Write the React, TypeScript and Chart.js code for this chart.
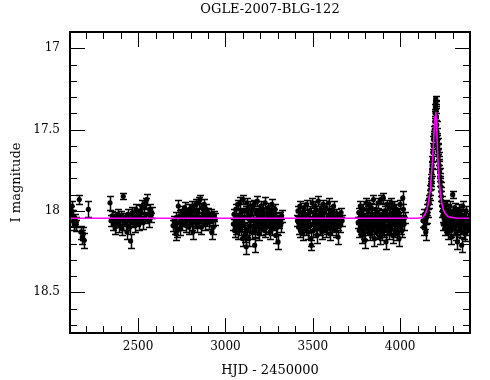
import React, { useEffect, useRef } from "react";
import { Chart, registerables } from "chart.js";

Chart.register(...registerables);

type Obs = [number, number, number]; // HJD-2450000, I mag, error

const TITLE = "OGLE-2007-BLG-122";
const X_LABEL = "HJD - 2450000";
const Y_LABEL = "I magnitude";
const xTickLabels = [2500, 3000, 3500, 4000];
const yTickLabels = [17, 17.5, 18, 18.5];
const xMin = 2110;
const xMax = 4400;
const yMin = 16.9;
const yMax = 18.75;

const season2002: Obs[] = [
  [2118, 18.0, 0.03], [2122, 17.97, 0.03], [2126, 18.03, 0.035], [2130, 18.06, 0.03],
  [2134, 18.08, 0.035], [2138, 18.05, 0.03], [2142, 18.09, 0.035], [2146, 18.07, 0.03],
  [2163, 17.93, 0.03], [2172, 18.13, 0.04], [2180, 18.16, 0.045], [2186, 18.14, 0.04],
  [2191, 18.18, 0.045], [2215, 17.99, 0.05],
];

const season2003: Obs[] = [
  [2339, 17.95, 0.043], [2345, 18.06, 0.035], [2352, 18.03, 0.03], [2358, 18.08, 0.04],
  [2363, 18.05, 0.03], [2369, 18.1, 0.04], [2374, 18.04, 0.035], [2380, 18.07, 0.03],
  [2385, 18.02, 0.035], [2391, 18.09, 0.04], [2396, 18.05, 0.03], [2402, 18.03, 0.03],
  [2408, 18.11, 0.04], [2415, 17.91, 0.018], [2420, 18.06, 0.035], [2425, 18.04, 0.03],
  [2430, 18.08, 0.04], [2436, 18.13, 0.04], [2441, 18.02, 0.03], [2446, 18.06, 0.035],
  [2451, 18.1, 0.04], [2457, 18.185, 0.045], [2462, 18.05, 0.03], [2467, 18.01, 0.035],
  [2472, 18.07, 0.03], [2478, 18.04, 0.035], [2483, 18.09, 0.04], [2488, 17.99, 0.03],
  [2494, 18.06, 0.035], [2499, 18.03, 0.03], [2505, 18.08, 0.04], [2510, 18.0, 0.035],
  [2516, 18.05, 0.03], [2521, 17.97, 0.035], [2527, 18.07, 0.04], [2532, 17.98, 0.03],
  [2538, 18.04, 0.035], [2543, 17.95, 0.03], [2549, 17.93, 0.035], [2555, 18.02, 0.03],
  [2560, 18.06, 0.04], [2566, 17.99, 0.035], [2572, 18.04, 0.03], [2578, 18.01, 0.035],
];

const season2004: Obs[] = [
  [2700, 18.09, 0.035], [2705, 18.06, 0.03], [2712, 18.1, 0.04], [2716, 18.14, 0.04],
  [2718, 18.04, 0.035], [2724, 18.12, 0.04], [2730, 17.97, 0.035], [2734, 18.07, 0.03],
  [2738, 18.03, 0.035], [2742, 18.11, 0.04], [2746, 18.05, 0.03], [2750, 18.02, 0.035],
  [2754, 18.08, 0.04], [2758, 18.0, 0.03], [2762, 18.06, 0.035], [2766, 17.98, 0.035],
  [2770, 18.04, 0.03], [2774, 18.09, 0.04], [2778, 18.01, 0.03], [2782, 18.06, 0.035],
  [2786, 18.03, 0.03], [2790, 18.1, 0.04], [2794, 17.99, 0.035], [2798, 18.05, 0.03],
  [2802, 18.02, 0.035], [2806, 18.08, 0.04], [2810, 17.97, 0.03], [2814, 18.13, 0.04],
  [2818, 18.04, 0.035], [2822, 18.0, 0.03], [2826, 18.07, 0.035], [2830, 17.96, 0.035],
  [2834, 18.03, 0.03], [2838, 18.09, 0.04], [2842, 18.01, 0.03], [2846, 17.95, 0.035],
  [2850, 18.06, 0.035], [2854, 17.93, 0.03], [2858, 18.04, 0.035], [2862, 18.1, 0.04],
  [2866, 17.98, 0.03], [2870, 18.05, 0.035], [2874, 18.02, 0.03], [2878, 17.96, 0.035],
  [2882, 18.08, 0.04], [2886, 18.03, 0.03], [2890, 17.99, 0.035], [2894, 18.06, 0.035],
  [2898, 18.01, 0.03], [2904, 18.07, 0.04], [2910, 18.04, 0.035], [2916, 18.02, 0.03],
  [2921, 18.13, 0.045], [2926, 18.06, 0.035], [2930, 18.1, 0.04], [2936, 18.03, 0.03],
  [2942, 18.05, 0.035],
];

const season2005: Obs[] = [
  [3045, 18.08, 0.035], [3049, 18.02, 0.03], [3052, 18.12, 0.04], [3056, 18.05, 0.035],
  [3059, 17.99, 0.03], [3063, 18.1, 0.04], [3066, 18.06, 0.035], [3070, 17.96, 0.03],
  [3073, 18.13, 0.04], [3077, 18.03, 0.035], [3080, 18.08, 0.035], [3084, 17.95, 0.035],
  [3087, 18.11, 0.04], [3091, 18.01, 0.03], [3094, 18.06, 0.035], [3098, 18.17, 0.045],
  [3101, 17.93, 0.03], [3105, 18.09, 0.04], [3108, 18.04, 0.035], [3112, 18.15, 0.04],
  [3115, 18.0, 0.03], [3119, 18.22, 0.045], [3122, 17.95, 0.03], [3126, 18.11, 0.04],
  [3129, 18.03, 0.035], [3133, 18.17, 0.045], [3136, 18.05, 0.035], [3140, 17.97, 0.03],
  [3143, 18.09, 0.04], [3147, 18.02, 0.03], [3150, 18.13, 0.04], [3154, 17.99, 0.035],
  [3157, 18.06, 0.035], [3161, 18.1, 0.04], [3164, 17.96, 0.03], [3167, 18.21, 0.045],
  [3171, 18.12, 0.04], [3175, 18.01, 0.03], [3178, 18.07, 0.035], [3182, 17.94, 0.03],
  [3185, 18.09, 0.04], [3189, 18.03, 0.035], [3192, 18.14, 0.04], [3196, 18.0, 0.03],
  [3199, 18.06, 0.035], [3203, 17.97, 0.03], [3206, 18.11, 0.04], [3210, 18.04, 0.035],
  [3213, 17.99, 0.03], [3217, 18.08, 0.04], [3220, 18.02, 0.03], [3224, 18.12, 0.04],
  [3227, 17.95, 0.035], [3231, 18.06, 0.035], [3234, 18.1, 0.04], [3238, 18.01, 0.03],
  [3241, 18.05, 0.035], [3245, 17.98, 0.03], [3248, 18.09, 0.04], [3252, 18.03, 0.035],
  [3255, 18.13, 0.04], [3259, 18.0, 0.03], [3262, 18.07, 0.035], [3266, 17.96, 0.035],
  [3269, 18.11, 0.04], [3273, 18.04, 0.035], [3276, 18.02, 0.03], [3280, 18.08, 0.04],
  [3284, 17.99, 0.035], [3288, 18.15, 0.045], [3292, 18.05, 0.035], [3296, 18.1, 0.04],
  [3301, 18.19, 0.045], [3305, 18.07, 0.035], [3310, 18.04, 0.035], [3316, 18.09, 0.04],
  [3322, 18.03, 0.035],
];

const season2006: Obs[] = [
  [3412, 18.06, 0.035], [3415, 18.0, 0.03], [3419, 18.1, 0.04], [3422, 18.04, 0.035],
  [3426, 17.97, 0.03], [3429, 18.12, 0.04], [3433, 18.05, 0.035], [3436, 18.08, 0.035],
  [3440, 18.01, 0.03], [3443, 18.14, 0.04], [3447, 18.06, 0.035], [3450, 17.98, 0.03],
  [3454, 18.09, 0.04], [3457, 18.03, 0.035], [3461, 18.11, 0.04], [3464, 17.96, 0.03],
  [3468, 18.07, 0.035], [3471, 18.02, 0.03], [3475, 18.13, 0.04], [3478, 18.05, 0.035],
  [3482, 18.0, 0.03], [3485, 18.09, 0.04], [3489, 18.17, 0.045], [3492, 18.21, 0.03],
  [3496, 17.95, 0.03], [3499, 18.08, 0.04], [3503, 18.12, 0.04], [3506, 18.01, 0.03],
  [3510, 18.06, 0.035], [3513, 17.97, 0.03], [3517, 18.1, 0.04], [3520, 18.03, 0.035],
  [3524, 18.15, 0.045], [3527, 18.05, 0.035], [3531, 17.94, 0.03], [3534, 18.08, 0.04],
  [3538, 18.02, 0.03], [3541, 18.11, 0.04], [3545, 17.99, 0.035], [3548, 18.06, 0.035],
  [3552, 18.13, 0.04], [3555, 18.04, 0.035], [3559, 17.96, 0.03], [3562, 18.09, 0.04],
  [3566, 18.01, 0.03], [3569, 18.07, 0.035], [3573, 18.12, 0.04], [3576, 17.98, 0.03],
  [3580, 18.05, 0.035], [3583, 18.1, 0.04], [3587, 18.03, 0.035], [3590, 17.95, 0.03],
  [3594, 18.08, 0.04], [3597, 18.14, 0.04], [3601, 18.02, 0.03], [3604, 18.06, 0.035],
  [3608, 18.0, 0.03], [3611, 18.11, 0.04], [3615, 18.04, 0.035], [3619, 17.97, 0.03],
  [3623, 18.09, 0.04], [3627, 18.05, 0.035], [3631, 18.12, 0.04], [3635, 18.02, 0.03],
  [3640, 18.07, 0.035], [3645, 18.16, 0.045], [3650, 18.04, 0.035], [3656, 18.09, 0.04],
  [3662, 18.01, 0.03], [3668, 18.06, 0.035],
];

const season2007: Obs[] = [
  [3760, 18.07, 0.035], [3763, 18.01, 0.03], [3766, 18.12, 0.04], [3769, 18.04, 0.035],
  [3772, 17.97, 0.03], [3775, 18.1, 0.04], [3778, 18.06, 0.035], [3781, 18.15, 0.045],
  [3784, 18.02, 0.03], [3787, 18.08, 0.04], [3790, 17.99, 0.03], [3793, 18.13, 0.04],
  [3796, 18.05, 0.035], [3799, 18.18, 0.045], [3802, 18.03, 0.035], [3805, 17.95, 0.03],
  [3808, 18.09, 0.04], [3811, 18.06, 0.035], [3814, 18.11, 0.04], [3817, 18.0, 0.03],
  [3820, 18.07, 0.035], [3823, 17.96, 0.03], [3826, 18.14, 0.04], [3829, 18.04, 0.035],
  [3832, 18.08, 0.04], [3835, 17.98, 0.03], [3838, 18.12, 0.04], [3841, 18.02, 0.03],
  [3844, 18.06, 0.035], [3847, 17.93, 0.03], [3850, 18.1, 0.04], [3853, 18.17, 0.045],
  [3856, 18.04, 0.035], [3859, 17.99, 0.03], [3862, 18.08, 0.04], [3865, 18.13, 0.04],
  [3868, 18.01, 0.03], [3871, 18.06, 0.035], [3874, 17.95, 0.03], [3877, 18.11, 0.04],
  [3880, 18.03, 0.035], [3883, 18.16, 0.045], [3886, 18.07, 0.035], [3889, 17.93, 0.03],
  [3892, 18.09, 0.04], [3895, 18.02, 0.03], [3898, 18.14, 0.04], [3901, 18.05, 0.035],
  [3904, 17.92, 0.03], [3907, 18.08, 0.04], [3910, 18.12, 0.04], [3913, 18.0, 0.03],
  [3916, 18.06, 0.035], [3919, 18.19, 0.045], [3922, 18.03, 0.035], [3925, 17.96, 0.03],
  [3928, 18.1, 0.04], [3931, 18.05, 0.035], [3934, 18.13, 0.04], [3937, 17.98, 0.03],
  [3940, 18.07, 0.035], [3943, 18.02, 0.03], [3946, 18.11, 0.04], [3949, 17.95, 0.03],
  [3952, 18.08, 0.04], [3955, 18.04, 0.035], [3958, 18.15, 0.045], [3961, 18.01, 0.03],
  [3964, 18.06, 0.035], [3967, 17.97, 0.03], [3970, 18.12, 0.04], [3973, 18.03, 0.035],
  [3976, 18.09, 0.04], [3979, 17.99, 0.03], [3982, 18.14, 0.04], [3985, 18.05, 0.035],
  [3988, 18.08, 0.04], [3991, 18.01, 0.03], [3994, 18.17, 0.045], [3997, 18.04, 0.035],
  [4000, 17.96, 0.03], [4003, 18.1, 0.04], [4007, 18.06, 0.035], [4011, 18.12, 0.04],
  [4015, 17.92, 0.04], [4019, 17.99, 0.035], [4023, 18.08, 0.04], [4027, 18.04, 0.035],
];

const season2008: Obs[] = [
  [4131, 18.06, 0.04], [4135, 18.1, 0.045], [4139, 18.02, 0.035], [4143, 18.07, 0.04],
  [4147, 18.13, 0.05], [4151, 18.04, 0.035], [4155, 17.99, 0.035], [4158, 18.01, 0.03],
  [4161, 17.96, 0.03], [4164, 17.93, 0.03], [4167, 17.95, 0.03], [4170, 17.9, 0.03],
  [4172, 17.87, 0.03], [4175, 17.84, 0.025], [4177, 17.8, 0.025], [4179, 17.82, 0.025],
  [4181, 17.76, 0.025], [4183, 17.72, 0.025], [4185, 17.68, 0.02], [4187, 17.64, 0.02],
  [4189, 17.6, 0.02], [4191, 17.56, 0.02], [4193, 17.53, 0.02], [4195, 17.5, 0.02],
  [4198, 17.45, 0.02], [4200, 17.4, 0.015], [4202, 17.36, 0.015], [4203, 17.33, 0.015],
  [4204, 17.31, 0.015], [4205, 17.34, 0.015], [4206, 17.38, 0.015], [4208, 17.42, 0.02],
  [4210, 17.47, 0.02], [4211, 17.51, 0.02], [4212, 17.54, 0.02], [4214, 17.57, 0.02],
  [4216, 17.6, 0.02], [4218, 17.63, 0.02], [4220, 17.66, 0.02], [4222, 17.69, 0.025],
  [4224, 17.72, 0.025], [4226, 17.76, 0.025], [4228, 17.79, 0.025], [4230, 17.82, 0.025],
  [4232, 17.85, 0.03], [4234, 17.88, 0.03], [4236, 17.91, 0.03], [4238, 17.94, 0.03],
  [4240, 17.97, 0.03], [4242, 18.0, 0.035],
  [4244, 18.03, 0.035], [4246, 18.08, 0.04], [4249, 17.98, 0.03], [4252, 18.05, 0.035],
  [4255, 18.11, 0.04], [4258, 18.01, 0.03], [4261, 18.07, 0.035], [4264, 17.96, 0.03],
  [4267, 18.09, 0.04], [4270, 18.04, 0.035], [4273, 18.13, 0.04], [4276, 18.0, 0.03],
  [4279, 18.06, 0.035], [4282, 18.1, 0.04], [4285, 17.97, 0.03], [4288, 18.05, 0.035],
  [4291, 18.12, 0.04], [4294, 18.16, 0.045], [4297, 18.02, 0.03], [4301, 17.9, 0.02],
  [4304, 18.07, 0.035], [4307, 18.11, 0.04], [4310, 18.03, 0.035], [4313, 17.98, 0.03],
  [4316, 18.08, 0.04], [4319, 18.14, 0.04], [4322, 18.05, 0.035], [4325, 18.01, 0.03],
  [4328, 18.19, 0.045], [4331, 18.09, 0.04], [4334, 18.04, 0.035], [4337, 17.99, 0.03],
  [4340, 18.12, 0.04], [4343, 18.06, 0.035], [4346, 18.02, 0.03], [4349, 18.1, 0.04],
  [4352, 18.21, 0.045], [4355, 18.05, 0.035], [4358, 17.97, 0.03], [4361, 18.08, 0.04],
  [4364, 18.13, 0.04], [4367, 18.03, 0.035], [4370, 18.14, 0.045], [4374, 18.07, 0.035],
  [4378, 18.0, 0.03], [4382, 18.11, 0.04], [4386, 18.05, 0.035], [4390, 18.09, 0.04],
];

const modelT = [
  2110, 4100, 4130, 4145, 4155, 4161, 4166, 4171, 4176, 4181, 4186, 4190, 4195, 4200,
  4204.5, 4207, 4210, 4214, 4219, 4224, 4229, 4239, 4249, 4258, 4270, 4285, 4320, 4400,
];
const modelMag = [
  18.045, 18.045, 18.04, 18.015, 17.985, 17.955, 17.92, 17.875, 17.82, 17.75, 17.68, 17.605,
  17.5, 17.42, 17.39, 17.43, 17.5, 17.625, 17.75, 17.82, 17.875, 17.955, 17.995, 18.015,
  18.03, 18.038, 18.043, 18.045,
];

const FONT = "'DejaVu Serif', serif";

const errorBarPlugin = {
  id: "errorBars",
  beforeDatasetsDraw(chart: any) {
    const ds = chart.data.datasets.find((d: any) => d.label === "OGLE I");
    if (!ds) return;
    const xs = chart.scales.x;
    const ys = chart.scales.y;
    const ctx = chart.ctx as CanvasRenderingContext2D;
    const area = chart.chartArea;
    ctx.save();
    ctx.beginPath();
    ctx.rect(area.left, area.top, area.right - area.left, area.bottom - area.top);
    ctx.clip();
    ctx.strokeStyle = "#000";
    ctx.lineWidth = 1.5;
    ctx.beginPath();
    for (const p of ds.data) {
      const px = Math.round(xs.getPixelForValue(p.x)) + 0.5;
      const y1 = Math.round(ys.getPixelForValue(p.y - p.e)) + 0.5;
      const y2 = Math.round(ys.getPixelForValue(p.y + p.e)) + 0.5;
      ctx.moveTo(px, y1);
      ctx.lineTo(px, y2);
      ctx.moveTo(px - 3.5, y1);
      ctx.lineTo(px + 3.5, y1);
      ctx.moveTo(px - 3.5, y2);
      ctx.lineTo(px + 3.5, y2);
    }
    ctx.stroke();
    ctx.restore();
  },
};

const framePlugin = {
  id: "frame",
  afterDatasetsDraw(chart: any) {
    const ctx = chart.ctx as CanvasRenderingContext2D;
    const { left, right, top, bottom } = chart.chartArea;
    const xs = chart.scales.x;
    const ys = chart.scales.y;
    const major = 15;
    const minor = 7;
    ctx.save();
    ctx.strokeStyle = "#000";
    ctx.lineWidth = 1;
    ctx.beginPath();
    for (let v = Math.ceil(xMin / 100) * 100; v < xMax; v += 100) {
      const px = Math.round(xs.getPixelForValue(v)) + 0.5;
      if (px <= left + 1 || px >= right - 1) continue;
      const len = v % 500 === 0 ? major : minor;
      ctx.moveTo(px, bottom);
      ctx.lineTo(px, bottom - len);
      ctx.moveTo(px, top);
      ctx.lineTo(px, top + len);
    }
    for (let k = Math.ceil(yMin * 10); k <= Math.floor(yMax * 10); k++) {
      const py = Math.round(ys.getPixelForValue(k / 10)) + 0.5;
      if (py <= top + 1 || py >= bottom - 1) continue;
      const len = k % 5 === 0 ? major : minor;
      ctx.moveTo(left, py);
      ctx.lineTo(left + len, py);
      ctx.moveTo(right, py);
      ctx.lineTo(right - len, py);
    }
    ctx.stroke();
    ctx.lineWidth = 2;
    ctx.strokeRect(left, top, right - left, bottom - top);
    ctx.restore();
  },
};

export default function App() {
  const canvasRef = useRef<HTMLCanvasElement | null>(null);

  useEffect(() => {
    if (!canvasRef.current) return;
    const observations = [
      ...season2002, ...season2003, ...season2004, ...season2005,
      ...season2006, ...season2007, ...season2008,
    ].map(([x, y, e]) => ({ x, y, e }));
    const model = modelT.map((t, i) => ({ x: t, y: modelMag[i] }));

    Chart.defaults.font.family = FONT;
    Chart.defaults.color = "#000";

    const chart = new Chart(canvasRef.current, {
      type: "scatter",
      data: {
        datasets: [
          {
            label: "model",
            data: model,
            showLine: true,
            borderColor: "#ff00ff",
            borderWidth: 1.6,
            pointRadius: 0,
            tension: 0,
            order: 0,
          } as any,
          {
            label: "OGLE I",
            data: observations,
            backgroundColor: "#000",
            borderColor: "#000",
            borderWidth: 0,
            pointRadius: 2.6,
            pointHoverRadius: 2.6,
            order: 1,
          } as any,
        ],
      },
      options: {
        responsive: false,
        animation: false,
        devicePixelRatio: 1,
        events: [],
        layout: { padding: { left: 0, right: 20, top: 0, bottom: 0 } },
        plugins: {
          legend: { display: false },
          tooltip: { enabled: false },
          title: {
            display: true,
            text: TITLE,
            fullSize: false,
            color: "#000",
            font: { family: FONT, size: 13, weight: "normal" },
            padding: { top: 2, bottom: 14.4 },
          },
        },
        scales: {
          x: {
            type: "linear",
            min: xMin,
            max: xMax,
            grid: { display: false, drawTicks: false },
            border: { display: false },
            afterBuildTicks: (s: any) => {
              s.ticks = xTickLabels.map((v) => ({ value: v }));
            },
            afterFit: (s: any) => {
              s.height = 47;
            },
            ticks: {
              padding: 7,
              color: "#000",
              font: { family: FONT, size: 12 },
              maxRotation: 0,
              autoSkip: false,
              callback: (v: any) => String(v),
            },
            title: {
              display: true,
              text: X_LABEL,
              color: "#000",
              font: { family: FONT, size: 13 },
              padding: { top: 0, bottom: 1.5 },
            },
          },
          y: {
            type: "linear",
            reverse: true,
            min: yMin,
            max: yMax,
            grid: { display: false, drawTicks: false },
            border: { display: false },
            afterBuildTicks: (s: any) => {
              s.ticks = yTickLabels.map((v) => ({ value: v }));
            },
            afterFit: (s: any) => {
              s.width = 70;
            },
            ticks: {
              padding: 10,
              color: "#000",
              font: { family: FONT, size: 12 },
              autoSkip: false,
              callback: (v: any) => String(v),
            },
            title: {
              display: true,
              text: Y_LABEL,
              color: "#000",
              font: { family: FONT, size: 13 },
              padding: { top: 9, bottom: 0 },
            },
          },
        },
      } as any,
      plugins: [errorBarPlugin, framePlugin],
    });
    return () => chart.destroy();
  }, []);

  return (
    <div style={{ position: "absolute", left: 0, top: 0, width: 490, height: 380, background: "#fff" }}>
      <canvas ref={canvasRef} width={490} height={380} style={{ display: "block" }} />
    </div>
  );
}
